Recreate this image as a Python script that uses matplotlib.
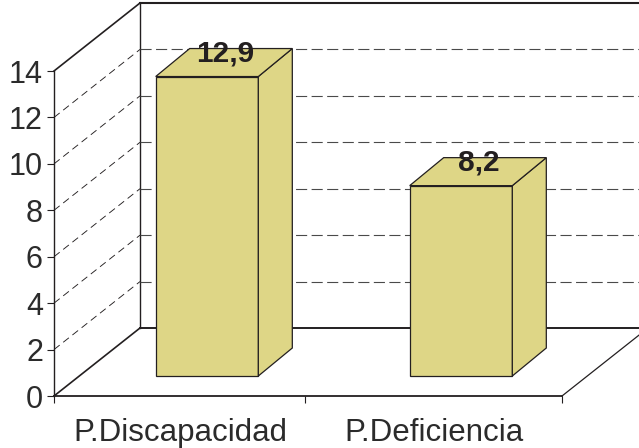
#!/usr/bin/env python3
import matplotlib
matplotlib.use('Agg')
import matplotlib.pyplot as plt
from matplotlib.patches import Polygon
from matplotlib.transforms import Affine2D

categories = ['P.Discapacidad', 'P.Deficiencia']
values = [12.9, 8.2]
value_labels = ['12,9', '8,2']
y_ticks = [0, 2, 4, 6, 8, 10, 12, 14]

plt.rcParams['font.family'] = ['Liberation Sans', 'DejaVu Sans']
bar_color = '#ded686'
line_color = '#231f20'
text_color = '#2b2b2b'
grid_color = '#4a4a4a'

W, H = 639, 448
fig = plt.figure(figsize=(W / 100, H / 100), dpi=100)
# front plane of the fake 3d box
ax = fig.add_axes([54 / W, (H - 396) / H, (562 - 54) / W, (396 - 71) / H])
ax.set_xlim(0, 2)
ax.set_ylim(0, 14)
ax.patch.set_visible(False)
for s in ['top', 'right']:
    ax.spines[s].set_visible(False)
ax.spines['left'].set_linewidth(1.0)
ax.spines['left'].set_color(line_color)
ax.spines['bottom'].set_linewidth(1.3)
ax.spines['bottom'].set_color(line_color)

ax.set_yticks(y_ticks)
ax.set_xticks([0, 0.99, 2])
ax.set_xticklabels([])
ax.tick_params(axis='y', labelsize=22, length=5, width=0.8, pad=3, color=line_color, labelcolor=text_color)
ax.tick_params(axis='x', length=5, width=0.8, color=line_color)


def shifted(dx, dy):
    # pixel offset up/right from the front plane
    return ax.transData + Affine2D().translate(dx, dy)


depth = (86, 68)
back = shifted(*depth)
ax.plot([0, 0], [0, 14], color=line_color, lw=1.0, transform=back, clip_on=False)
ax.plot([0, 2], [0, 0], color=line_color, lw=1.4, transform=back, clip_on=False)
ax.plot([0, 2], [14, 14], color=line_color, lw=1.5, transform=back, clip_on=False)

ls = (0, (10, 4))
side_ls = (0, (8, 5))
for v in y_ticks:
    # side wall + back wall
    x0, y0 = ax.transData.transform((0, v))
    solid = v in (0, 14)
    fig.add_artist(plt.Line2D([x0 / W, (x0 + depth[0]) / W],
                              [y0 / H, (y0 + depth[1]) / H],
                              color=line_color, lw=1.2 if solid else 0.65,
                              ls='-' if solid else side_ls))
    if 0 < v < 14:
        ax.plot([0, 2], [v, v], color=grid_color, lw=0.8, ls=ls, transform=back, clip_on=False)

# right edge of the floor
xr, yr = ax.transData.transform((2, 0))
fig.add_artist(plt.Line2D([xr / W, (xr + depth[0]) / W], [yr / H, (yr + depth[1]) / H],
                          color=line_color, lw=0.9))

bar_w = 0.404
shift = (26, 20)
bar_depth = (34, 28)
front = shifted(*shift)
for i, (val, lab) in enumerate(zip(values, value_labels)):
    xl = i + 0.5 - bar_w / 2
    xr_bar = i + 0.5 + bar_w / 2
    # offset for the depth edge, in data units
    ddx = bar_depth[0] / (562 - 54) * 2
    ddy = bar_depth[1] / (396 - 71) * 14
    kw = dict(facecolor=bar_color, edgecolor=line_color, lw=0.9, transform=front, clip_on=False, zorder=3)
    ax.add_patch(Polygon([(xl, 0), (xr_bar, 0), (xr_bar, val), (xl, val)], **kw))
    ax.add_patch(Polygon([(xr_bar, 0), (xr_bar + ddx, ddy), (xr_bar + ddx, val + ddy), (xr_bar, val)], **kw))
    ax.add_patch(Polygon([(xl, val), (xr_bar, val), (xr_bar + ddx, val + ddy), (xl + ddx, val + ddy)], **kw))
    ax.annotate(lab, xy=(i + 0.5 + ddx / 2, val + ddy), xycoords=front, xytext=(1, -5), textcoords='offset pixels',
                ha='center', va='center', fontsize=21.5, fontweight='bold', color=line_color, zorder=5,
                annotation_clip=False)

for i, c in enumerate(categories):
    ax.annotate(c, xy=(i + 0.5, 0), xycoords='data', xytext=(-1, -37), textcoords='offset pixels',
                ha='center', va='center', fontsize=22.5, color=text_color, annotation_clip=False)

fig.savefig('out.png', dpi=100)
